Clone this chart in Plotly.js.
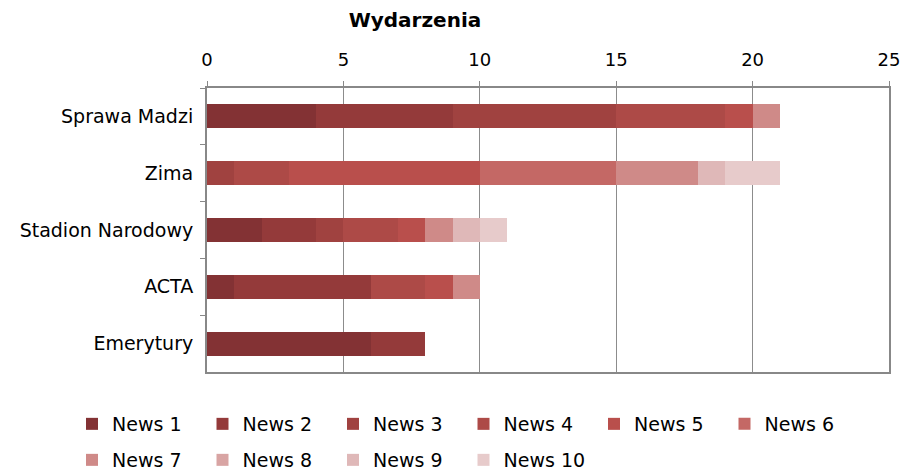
<!DOCTYPE html>
<html>
<head>
<meta charset="utf-8">
<script src="https://cdn.plot.ly/plotly-3.0.1.min.js"></script>
<style>body{margin:0;padding:0;background:#fff}#chart{width:908px;height:470px}</style>
</head>
<body>
<div id="chart"></div>
<script>
const categories = ["Sprawa Madzi", "Zima", "Stadion Narodowy", "ACTA", "Emerytury"];
const seriesNames = ["News 1","News 2","News 3","News 4","News 5","News 6","News 7","News 8","News 9","News 10"];
const news1  = [4, 0, 2, 1, 6];
const news2  = [5, 0, 2, 5, 2];
const news3  = [6, 1, 1, 0, 0];
const news4  = [4, 2, 2, 2, 0];
const news5  = [1, 7, 1, 1, 0];
const news6  = [0, 5, 0, 0, 0];
const news7  = [1, 3, 1, 1, 0];
const news8  = [0, 0, 0, 0, 0];
const news9  = [0, 1, 1, 0, 0];
const news10 = [0, 2, 1, 0, 0];
const seriesValues = [news1, news2, news3, news4, news5, news6, news7, news8, news9, news10];
const colors = ["#833234","#943a3a","#a04240","#ad4a47","#b94f4c","#c46865","#cf8a88","#d8a4a3","#dfb8b8","#e7cbcb"];

const FONT = "'DejaVu Sans', sans-serif";

// legend row assignment: first row split in two legends so it does not wrap
function legendFor(i) {
  if (i < 5) return 'legend';
  if (i === 5) return 'legend3';
  return 'legend2';
}

const traces = seriesValues.map((vals, i) => ({
  type: 'bar',
  orientation: 'h',
  name: seriesNames[i],
  x: vals,
  y: categories,
  marker: {color: colors[i], line: {width: 0}},
  legend: legendFor(i),
  hoverinfo: 'x+name'
}));

const legendCommon = {
  orientation: 'h',
  traceorder: 'normal',
  xref: 'container',
  yref: 'container',
  xanchor: 'left',
  yanchor: 'middle',
  font: {family: FONT, size: 19, color: '#000'},
  entrywidth: 85.5,
  entrywidthmode: 'pixels',
  bgcolor: 'rgba(0,0,0,0)',
  itemclick: false,
  itemdoubleclick: false
};

const layout = {
  width: 908,
  height: 470,
  barmode: 'stack',
  bargap: 0.58,
  paper_bgcolor: '#fff',
  plot_bgcolor: '#fff',
  margin: {l: 207, r: 19, t: 88, b: 98, pad: 0, autoexpand: false},
  title: {
    text: '<b>Wydarzenia</b>',
    font: {family: FONT, size: 20, color: '#000'},
    x: 415/908, xref: 'container', xanchor: 'center',
    y: 1 - 20/470, yref: 'container', yanchor: 'middle'
  },
  xaxis: {
    side: 'top',
    range: [0, 25],
    tickvals: [0, 5, 10, 15, 20, 25],
    ticktext: ['0', '5', '10', '15', '20', '25'],
    showgrid: true,
    gridcolor: '#8c8c8c',
    gridwidth: 1,
    zeroline: false,
    showline: true,
    linecolor: '#888',
    linewidth: 2,
    mirror: true,
    ticks: 'outside',
    ticklen: 5,
    tickcolor: '#888',
    ticklabelstandoff: 8,
    tickfont: {family: FONT, size: 18, color: '#000'},
    fixedrange: true
  },
  yaxis: {
    type: 'category',
    autorange: 'reversed',
    showgrid: false,
    zeroline: false,
    showline: true,
    linecolor: '#888',
    linewidth: 2,
    mirror: true,
    ticks: 'outside',
    tickson: 'boundaries',
    ticklen: 5,
    tickcolor: '#888',
    ticklabelstandoff: 8,
    tickfont: {family: FONT, size: 19, color: '#000'},
    fixedrange: true
  },
  legend: Object.assign({x: 72/908, y: 1 - 424/470}, legendCommon),
  legend3: Object.assign({x: (72 + 5*130.5)/908, y: 1 - 424/470}, legendCommon),
  legend2: Object.assign({x: 72/908, y: 1 - 460/470}, legendCommon),
  showlegend: true
};

Plotly.newPlot('chart', traces, layout, {displayModeBar: false});
</script>
</body>
</html>
